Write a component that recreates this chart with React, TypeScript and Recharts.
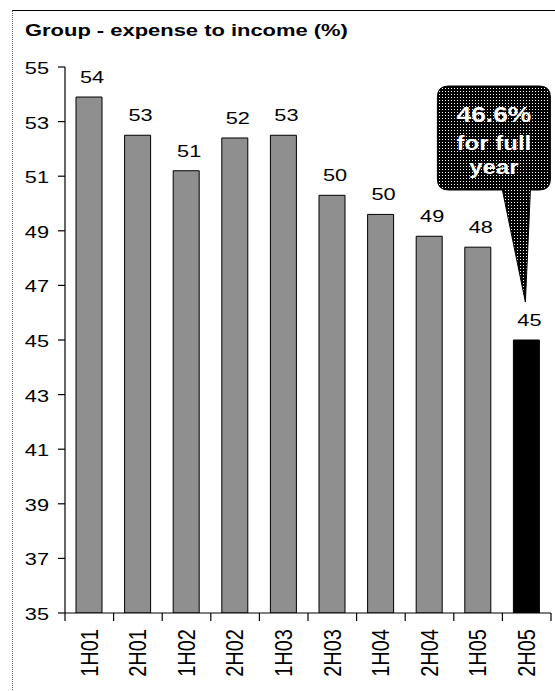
import { BarChart, Bar, XAxis, YAxis, Cell, LabelList } from "recharts";

const categories = ["1H01", "2H01", "1H02", "2H02", "1H03", "2H03", "1H04", "2H04", "1H05", "2H05"];
const expenseToIncome = [53.9, 52.5, 51.2, 52.4, 52.5, 50.3, 49.6, 48.8, 48.4, 45.0];
const yTicks = [35, 37, 39, 41, 43, 45, 47, 49, 51, 53, 55];
const calloutLines = ["46.6%", "for full", "year"];
const title = "Group - expense to income (%)";

const data = categories.map((cat, i) => ({ cat, value: expenseToIncome[i] }));

const FONT = "'Liberation Sans', Arial, Helvetica, sans-serif";
const STRETCH = 1.28;

const YTick = (props: any) => {
  const { x, y, payload } = props;
  return (
    <text
      transform={`translate(${x},${y + 7}) scale(${STRETCH},1)`}
      textAnchor="end"
      fontFamily={FONT}
      fontSize={17}
      fill="#000"
    >
      {payload.value}
    </text>
  );
};

const XTick = (props: any) => {
  const { x, y, payload, index } = props;
  const half = payload.offset ?? 24.3;
  const last = index === categories.length - 1;
  return (
    <g>
      <line x1={x - half} y1={y} x2={x - half} y2={y + 8} stroke="#000" strokeWidth={1.2} />
      {last && <line x1={x + half} y1={y} x2={x + half} y2={y + 8} stroke="#000" strokeWidth={1.2} />}
      <text
        transform={`translate(${x},${y + 16}) scale(1.15,1) rotate(-90)`}
        textAnchor="end"
        dy="0.36em"
        fontFamily={FONT}
        fontSize={20}
        fill="#000"
      >
        {payload.value}
      </text>
    </g>
  );
};

const renderLabel = (props: any) => {
  const x = Number(props.x);
  const y = Number(props.y);
  const w = Number(props.width);
  const label = (
    <text
      key="lbl"
      transform={`translate(${x + w / 2 + 3},${y - 14}) scale(${STRETCH},1)`}
      textAnchor="middle"
      fontFamily={FONT}
      fontSize={17}
      fill="#000"
    >
      {Math.round(Number(props.value))}
    </text>
  );
  if (props.index !== categories.length - 1) return label;

  // speech bubble pointing at the last bar
  const l = x - 76;
  const r = x + 37;
  const t = y - 254;
  const b = y - 150;
  const rad = 11;
  const d = [
    `M${l + rad},${t}`,
    `H${r - rad}`,
    `Q${r},${t} ${r},${t + rad}`,
    `V${b - rad}`,
    `Q${r},${b} ${r - rad},${b}`,
    `H${x + 17}`,
    `L${x + 12},${y - 38}`,
    `L${x - 11},${b}`,
    `H${l + rad}`,
    `Q${l},${b} ${l},${b - rad}`,
    `V${t + rad}`,
    `Q${l},${t} ${l + rad},${t}`,
    "Z",
  ].join(" ");
  const cx = (l + r) / 2;
  const baselines = [y - 218, y - 190, y - 166];
  const sizes = [22, 20, 20];
  return (
    <g key="callout">
      {label}
      <path d={d} fill="url(#bubbleDots)" stroke="#000" strokeWidth={1} />
      {calloutLines.map((s, i) => (
        <text
          key={s}
          transform={`translate(${cx},${baselines[i]}) scale(1.2,1)`}
          textAnchor="middle"
          fontFamily={FONT}
          fontWeight="bold"
          fontSize={sizes[i]}
          fill="#fff"
        >
          {s}
        </text>
      ))}
    </g>
  );
};

export default function App() {
  return (
    <div style={{ position: "absolute", left: 0, top: 0, width: 555, height: 691, background: "#fff" }}>
      <svg width={0} height={0} style={{ position: "absolute" }}>
        <defs>
          <pattern id="bubbleDots" width={3} height={3} patternUnits="userSpaceOnUse">
            <rect width={3} height={3} fill="#000" />
            <rect x={1} y={1} width={1} height={1} fill="#fff" />
          </pattern>
        </defs>
      </svg>
      <div style={{ position: "absolute", left: 12, top: 10, width: 543, height: 681, borderTop: "1.5px solid #000", borderLeft: "1px dotted #666" }} />
      <div
        style={{
          position: "absolute",
          left: 25,
          top: 21,
          fontFamily: FONT,
          fontWeight: "bold",
          fontSize: 17,
          lineHeight: "20px",
          whiteSpace: "nowrap",
          transform: `scaleX(1.29)`,
          transformOrigin: "left top",
        }}
      >
        {title}
      </div>
      <div style={{ position: "absolute", left: 0, top: 0 }}>
        <BarChart width={555} height={691} data={data} margin={{ top: 67, right: 4, bottom: 8, left: 0 }} barSize={26}>
          <XAxis
            dataKey="cat"
            height={70}
            interval={0}
            tickSize={0}
            tickMargin={0}
            tickLine={false}
            axisLine={{ stroke: "#000", strokeWidth: 1.2 }}
            tick={<XTick />}
          />
          <YAxis
            width={65}
            domain={[35, 55]}
            ticks={yTicks}
            interval={0}
            allowDataOverflow
            tickSize={7}
            tickMargin={9}
            tickLine={{ stroke: "#000", strokeWidth: 1.2 }}
            axisLine={{ stroke: "#000", strokeWidth: 1.2 }}
            tick={<YTick />}
          />
          <Bar dataKey="value" fill="#8f8f8f" stroke="#000" strokeWidth={1} isAnimationActive={false}>
            {data.map((d, i) => (
              <Cell key={d.cat} fill={i === data.length - 1 ? "#000" : "#8f8f8f"} />
            ))}
            <LabelList dataKey="value" content={renderLabel} />
          </Bar>
        </BarChart>
      </div>
    </div>
  );
}
